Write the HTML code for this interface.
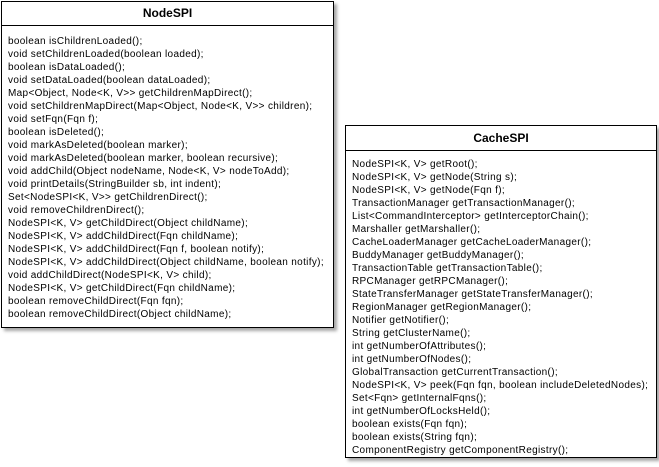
<!DOCTYPE html>
<html><head><style>
body{margin:0;width:659px;height:467px;background:#fff;position:relative;overflow:hidden;font-family:"Liberation Sans",sans-serif;}
.box{position:absolute;background:#fff;border:1px solid #000;box-shadow:3px 3px 3px rgba(0,0,0,0.35);box-sizing:border-box;}
.t{font-weight:bold;font-size:12px;text-align:center;border-bottom:1px solid #000;}
.b{font-size:10px;line-height:13px;padding-left:6px;white-space:pre;letter-spacing:0.33px;color:#000;}
</style></head><body>
<div class="box" style="left:1px;top:1px;width:333px;height:327px;">
<div class="t" style="height:23px;line-height:23px;">NodeSPI</div>
<div class="b" style="padding-top:9px;">boolean isChildrenLoaded();
void setChildrenLoaded(boolean loaded);
boolean isDataLoaded();
void setDataLoaded(boolean dataLoaded);
Map&lt;Object, Node&lt;K, V&gt;&gt; getChildrenMapDirect();
void setChildrenMapDirect(Map&lt;Object, Node&lt;K, V&gt;&gt; children);
void setFqn(Fqn f);
boolean isDeleted();
void markAsDeleted(boolean marker);
void markAsDeleted(boolean marker, boolean recursive);
void addChild(Object nodeName, Node&lt;K, V&gt; nodeToAdd);
void printDetails(StringBuilder sb, int indent);
Set&lt;NodeSPI&lt;K, V&gt;&gt; getChildrenDirect();
void removeChildrenDirect();
NodeSPI&lt;K, V&gt; getChildDirect(Object childName);
NodeSPI&lt;K, V&gt; addChildDirect(Fqn childName);
NodeSPI&lt;K, V&gt; addChildDirect(Fqn f, boolean notify);
NodeSPI&lt;K, V&gt; addChildDirect(Object childName, boolean notify);
void addChildDirect(NodeSPI&lt;K, V&gt; child);
NodeSPI&lt;K, V&gt; getChildDirect(Fqn childName);
boolean removeChildDirect(Fqn fqn);
boolean removeChildDirect(Object childName);</div>
</div>
<div class="box" style="left:345px;top:125px;width:312px;height:333px;">
<div class="t" style="height:24px;line-height:24px;">CacheSPI</div>
<div class="b" style="padding-top:7px;">NodeSPI&lt;K, V&gt; getRoot();
NodeSPI&lt;K, V&gt; getNode(String s);
NodeSPI&lt;K, V&gt; getNode(Fqn f);
TransactionManager getTransactionManager();
List&lt;CommandInterceptor&gt; getInterceptorChain();
Marshaller getMarshaller();
CacheLoaderManager getCacheLoaderManager();
BuddyManager getBuddyManager();
TransactionTable getTransactionTable();
RPCManager getRPCManager();
StateTransferManager getStateTransferManager();
RegionManager getRegionManager();
Notifier getNotifier();
String getClusterName();
int getNumberOfAttributes();
int getNumberOfNodes();
GlobalTransaction getCurrentTransaction();
NodeSPI&lt;K, V&gt; peek(Fqn fqn, boolean includeDeletedNodes);
Set&lt;Fqn&gt; getInternalFqns();
int getNumberOfLocksHeld();
boolean exists(Fqn fqn);
boolean exists(String fqn);
ComponentRegistry getComponentRegistry();</div>
</div>
</body></html>
